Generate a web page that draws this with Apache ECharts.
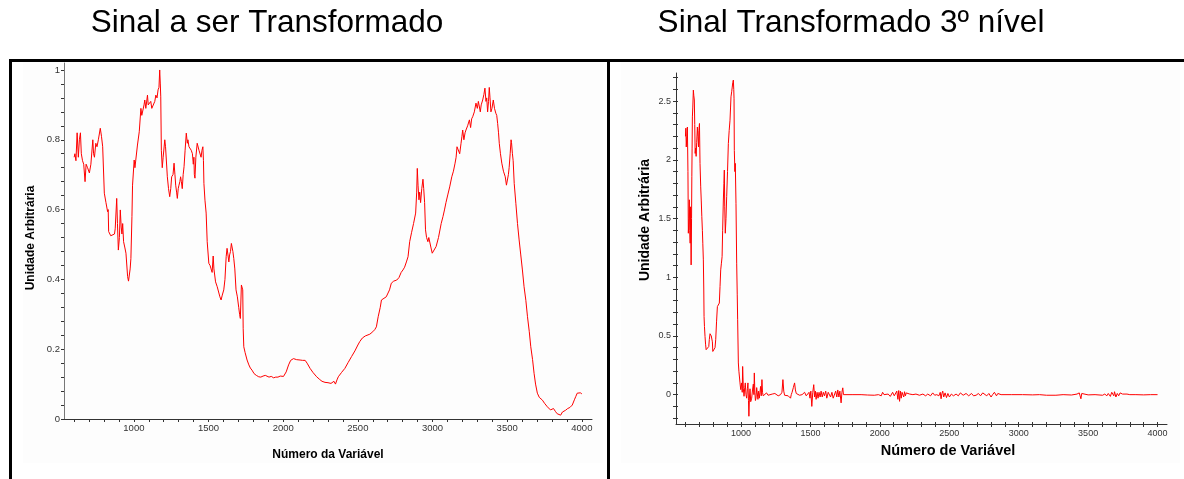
<!DOCTYPE html>
<html>
<head>
<meta charset="utf-8">
<script src="https://cdn.jsdelivr.net/npm/echarts@6.0.0/dist/echarts.min.js"></script>
<style>
html,body{margin:0;padding:0;background:#fff;}
#main{width:1184px;height:479px;}
</style>
</head>
<body>
<div id="main"></div>
<script>
// ---------- data ----------
const titleLeft = 'Sinal a ser Transformado';
const titleRight = 'Sinal Transformado 3º nível';
const yNameText = 'Unidade Arbitrária';
const xNameLeft = 'Número da Variável';
const xNameRight = 'Número de Variável';

const xTickLabels = [1000, 1500, 2000, 2500, 3000, 3500, 4000];
const leftYLabels = [0, 0.2, 0.4, 0.6, 0.8, 1];
const rightYLabels = [0, 0.5, 1, 1.5, 2, 2.5];

const leftX = [600,605,612,620,628,635,642,648,656,664,673,680,690,702,712,725,730,736,745,753,762,775,783,791,802,813,824,828,831,845,858,870,875,885,890,896,903,909,915,920,925,931,940,947,958,964,969,975,980,987,991,1002,1007,1013,1024,1036,1047,1053,1062,1068,1073,1080,1091,1096,1102,1113,1120,1131,1140,1147,1155,1162,1168,1173,1177,1180,1184,1190,1196,1207,1212,1218,1224,1232,1240,1247,1253,1262,1269,1275,1280,1286,1291,1297,1302,1308,1313,1318,1324,1330,1336,1343,1351,1358,1362,1369,1376,1384,1392,1398,1402,1405,1409,1415,1424,1430,1436,1442,1450,1456,1462,1466,1469,1476,1484,1491,1502,1510,1517,1524,1531,1536,1547,1558,1569,1576,1584,1592,1602,1610,1618,1624,1630,1636,1641,1647,1653,1658,1663,1669,1676,1684,1693,1702,1708,1713,1720,1725,1729,1732,1736,1745,1758,1770,1780,1791,1805,1820,1836,1850,1865,1880,1891,1905,1920,1936,1950,1965,1980,2002,2020,2036,2050,2069,2090,2113,2130,2147,2160,2180,2200,2224,2245,2260,2280,2300,2320,2331,2340,2350,2360,2369,2390,2413,2435,2458,2480,2500,2513,2530,2550,2580,2600,2613,2624,2636,2650,2658,2669,2690,2702,2712,2724,2740,2760,2775,2790,2802,2813,2825,2836,2847,2860,2873,2887,2894,2898,2903,2909,2914,2920,2928,2936,2941,2947,2953,2960,2969,2975,2980,2990,2998,3010,3024,3040,3058,3070,3080,3090,3102,3115,3129,3140,3151,3158,3164,3175,3182,3191,3197,3202,3210,3218,3224,3235,3247,3255,3262,3269,3280,3291,3300,3307,3313,3320,3326,3336,3344,3351,3358,3363,3369,3375,3380,3385,3391,3398,3407,3415,3424,3430,3436,3442,3447,3455,3464,3475,3487,3495,3502,3508,3513,3520,3526,3529,3535,3540,3547,3558,3569,3580,3591,3602,3613,3625,3636,3648,3658,3670,3680,3690,3702,3715,3725,3736,3750,3760,3769,3780,3790,3800,3810,3824,3835,3845,3858,3870,3880,3891,3905,3920,3936,3950,3960,3969,3980,3990,4000];
const leftY = [0.75,0.76,0.74,0.82,0.75,0.80,0.82,0.76,0.74,0.73,0.68,0.73,0.72,0.705,0.73,0.80,0.76,0.75,0.79,0.78,0.80,0.833,0.81,0.78,0.647,0.62,0.594,0.60,0.537,0.525,0.527,0.53,0.545,0.632,0.56,0.484,0.52,0.599,0.55,0.53,0.56,0.508,0.49,0.475,0.408,0.395,0.396,0.43,0.46,0.58,0.67,0.742,0.72,0.725,0.785,0.823,0.89,0.87,0.866,0.90,0.914,0.89,0.928,0.90,0.895,0.91,0.89,0.887,0.91,0.928,0.92,0.943,0.95,1.0,0.96,0.923,0.77,0.72,0.75,0.80,0.78,0.78,0.694,0.66,0.637,0.66,0.694,0.70,0.733,0.70,0.67,0.65,0.632,0.66,0.67,0.68,0.694,0.68,0.66,0.70,0.723,0.77,0.819,0.79,0.80,0.78,0.775,0.77,0.76,0.73,0.75,0.70,0.69,0.75,0.79,0.785,0.77,0.765,0.75,0.77,0.78,0.74,0.675,0.627,0.59,0.508,0.446,0.44,0.43,0.42,0.467,0.43,0.393,0.379,0.374,0.35,0.341,0.355,0.37,0.40,0.465,0.489,0.47,0.45,0.47,0.48,0.503,0.503,0.48,0.46,0.43,0.37,0.35,0.32,0.30,0.288,0.384,0.38,0.37,0.26,0.207,0.19,0.169,0.155,0.146,0.14,0.13,0.125,0.121,0.12,0.123,0.125,0.125,0.12,0.122,0.118,0.12,0.12,0.123,0.122,0.135,0.155,0.168,0.173,0.17,0.169,0.168,0.168,0.16,0.145,0.133,0.121,0.113,0.108,0.105,0.104,0.102,0.102,0.108,0.100,0.112,0.121,0.133,0.145,0.162,0.179,0.195,0.212,0.222,0.232,0.238,0.243,0.25,0.256,0.264,0.293,0.32,0.341,0.345,0.35,0.352,0.37,0.389,0.395,0.398,0.405,0.42,0.427,0.435,0.45,0.465,0.508,0.535,0.56,0.59,0.65,0.718,0.67,0.628,0.65,0.62,0.66,0.687,0.66,0.62,0.542,0.52,0.508,0.52,0.51,0.49,0.475,0.48,0.494,0.52,0.56,0.58,0.599,0.62,0.642,0.665,0.694,0.71,0.733,0.75,0.78,0.78,0.76,0.79,0.81,0.828,0.80,0.82,0.828,0.84,0.857,0.835,0.86,0.866,0.88,0.905,0.89,0.91,0.914,0.88,0.90,0.914,0.93,0.948,0.91,0.92,0.88,0.91,0.95,0.92,0.88,0.89,0.914,0.89,0.876,0.87,0.847,0.82,0.79,0.76,0.733,0.71,0.694,0.67,0.666,0.70,0.72,0.76,0.80,0.792,0.76,0.74,0.675,0.618,0.56,0.513,0.47,0.427,0.379,0.34,0.293,0.25,0.207,0.17,0.131,0.10,0.074,0.062,0.06,0.054,0.045,0.04,0.035,0.03,0.026,0.022,0.03,0.021,0.015,0.02,0.011,0.02,0.018,0.025,0.03,0.033,0.04,0.055,0.065,0.074,0.073,0.075,0.072];

const rightX = [600,603,606,610,614,618,621,625,628,631,634,637,641,644,646,648,650,653,657,660,664,667,670,674,677,681,686,690,694,697,701,705,710,714,718,722,725,729,732,734,737,741,745,749,753,758,763,768,772,777,782,786,790,794,797,802,808,813,818,824,830,837,844,849,854,859,864,868,873,877,880,883,887,892,897,903,909,915,921,925,928,933,937,941,945,948,950,952,956,959,964,969,973,976,981,985,988,993,998,1002,1005,1009,1012,1017,1022,1027,1031,1036,1041,1046,1050,1054,1057,1061,1065,1070,1077,1083,1089,1093,1096,1100,1104,1108,1113,1117,1122,1127,1132,1137,1141,1146,1151,1155,1160,1170,1184,1195,1208,1225,1244,1255,1268,1285,1295,1302,1308,1314,1325,1340,1357,1362,1368,1377,1386,1392,1398,1410,1422,1440,1458,1470,1482,1490,1497,1503,1510,1517,1524,1530,1536,1541,1548,1555,1562,1570,1577,1585,1593,1601,1610,1618,1628,1637,1645,1655,1664,1673,1682,1690,1697,1705,1712,1721,1727,1733,1738,1745,1800,1865,1910,1960,1990,2010,2020,2030,2044,2060,2075,2092,2104,2116,2122,2130,2136,2142,2148,2154,2160,2166,2172,2178,2184,2190,2200,2215,2238,2260,2285,2310,2330,2345,2365,2381,2395,2410,2425,2435,2441,2447,2453,2460,2470,2480,2490,2501,2515,2530,2549,2565,2580,2600,2621,2640,2660,2675,2693,2710,2725,2741,2755,2770,2785,2801,2812,2825,2840,2850,2861,2873,2950,3028,3100,3150,3200,3268,3320,3380,3420,3436,3442,3448,3454,3460,3500,3550,3604,3620,3635,3645,3652,3660,3670,3676,3685,3690,3700,3710,3720,3730,3748,3760,3780,3800,3844,3900,3950,4000];
const rightY = [2.20,2.27,2.11,2.20,2.28,1.90,1.375,1.50,1.66,1.40,1.29,1.60,1.105,1.50,1.856,2.10,2.366,2.45,2.594,2.55,2.51,2.30,2.055,2.10,2.03,2.15,2.28,2.20,2.11,2.25,2.31,1.97,1.77,1.65,1.516,1.40,1.29,1.148,0.90,0.666,0.58,0.496,0.43,0.383,0.375,0.37,0.385,0.41,0.47,0.519,0.52,0.50,0.51,0.45,0.368,0.365,0.36,0.40,0.468,0.62,0.75,0.76,0.78,0.92,1.063,1.12,1.176,1.40,1.658,1.80,1.913,1.60,1.375,1.50,1.686,1.90,2.14,2.25,2.338,2.45,2.537,2.58,2.62,2.66,2.68,2.60,2.52,2.08,1.90,1.97,1.63,1.12,0.85,0.638,0.27,0.20,0.185,0.10,0.043,0.06,0.10,0.02,0.24,0.05,-0.014,0.06,0.10,0.0,-0.03,0.05,0.10,-0.05,-0.184,-0.02,0.05,-0.06,-0.03,0.04,0.09,0.0,0.185,0.02,-0.05,-0.03,0.06,0.05,-0.04,0.03,-0.03,0.02,0.07,-0.01,0.128,0.02,-0.01,0.0,0.015,-0.005,0.0,0.005,0.01,-0.005,-0.01,0.0,0.02,0.128,0.03,-0.005,0.0,-0.01,-0.03,0.0,0.02,0.06,0.10,0.04,0.01,0.0,-0.005,0.0,0.02,-0.01,-0.01,0.02,-0.03,0.03,-0.10,0.02,0.085,-0.02,0.03,-0.04,0.02,-0.03,0.02,-0.02,0.03,-0.02,0.02,-0.01,0.03,-0.03,0.02,0.025,-0.02,0.02,-0.03,-0.02,0.03,-0.02,0.04,-0.02,0.03,-0.07,0.02,0.058,0.0,0.0,0.0,0.0,-0.003,-0.005,0.0,-0.01,0.02,0.0,-0.005,0.005,-0.015,0.02,-0.01,-0.02,0.03,-0.04,0.035,-0.057,0.03,-0.03,0.02,0.035,-0.02,0.025,-0.01,0.015,0.0,0.005,0.0,0.005,-0.005,0.005,-0.01,0.005,-0.01,0.015,-0.005,0.0,-0.01,0.02,-0.035,0.01,0.03,-0.02,0.015,-0.025,0.01,-0.02,0.005,-0.01,0.005,-0.01,0.015,-0.005,0.01,-0.01,0.01,-0.01,-0.005,0.01,-0.01,0.015,0.0,-0.01,0.01,-0.02,0.0,0.02,-0.01,0.01,0.005,0.0,0.0,0.0,-0.002,0.0,-0.005,-0.005,0.0,-0.003,0.005,0.015,-0.01,-0.035,0.01,0.0,-0.002,0.0,-0.005,0.005,-0.01,0.01,0.005,-0.015,0.02,0.015,-0.01,0.025,-0.02,0.01,-0.01,0.015,0.005,-0.005,0.005,0.0,0.0,-0.002,0.0,0.0];

// tick positions
function steps(from, to, step, dec) {
  const out = [];
  const n = Math.round((to - from) / step);
  for (let i = 0; i <= n; i++) out.push(+(from + i * step).toFixed(dec));
  return out;
}
const xTicks = steps(600, 4000, 100, 0);
const leftYTicks = steps(0, 1, 0.04, 2);
const rightYTicks = steps(-0.2, 2.7, 0.1, 1);

// ---------- chart ----------
const FONT = '"Liberation Sans", Arial, sans-serif';
const chart = echarts.init(document.getElementById('main'), null, {renderer: 'canvas'});
const plainFmt = v => String(v);

function xAxisDef(grid, tickInside, showLine, fs, margin, lineColor, tickLen) {
  return {
    type: 'value', gridIndex: grid, position: 'bottom', min: 532, max: 4068,
    splitLine: {show: false},
    axisLine: {show: showLine, onZero: false, lineStyle: {color: lineColor, width: 1}},
    axisTick: {show: true, inside: tickInside, length: tickLen, customValues: xTicks, lineStyle: {color: '#333', width: 1}},
    axisLabel: {show: !tickInside, customValues: xTickLabels, formatter: plainFmt, fontSize: fs, color: '#333', fontFamily: FONT, margin: margin}
  };
}
function yAxisDef(grid, min, max, ticks, labels, tickInside, showLine, fs, margin, lineColor, tickLen) {
  return {
    type: 'value', gridIndex: grid, position: 'left', min: min, max: max,
    splitLine: {show: false},
    axisLine: {show: showLine, onZero: false, lineStyle: {color: lineColor, width: 1}},
    axisTick: {show: true, inside: tickInside, length: tickLen, customValues: ticks, lineStyle: {color: '#333', width: 1}},
    axisLabel: {show: !tickInside, customValues: labels, formatter: plainFmt, fontSize: fs, color: '#333', fontFamily: FONT, margin: margin}
  };
}

const option = {
  animation: false,
  backgroundColor: '#ffffff',
  grid: [
    {left: 64, top: 63, width: 528, height: 356},
    {left: 676, top: 73, width: 491, height: 351}
  ],
  xAxis: [
    xAxisDef(0, false, true, 9.5, 4, '#333', 3),
    xAxisDef(1, false, true, 9, 5, '#333', 3),
    xAxisDef(1, true, false, 9, 5, '#333', 2)
  ],
  yAxis: [
    yAxisDef(0, 0, 1.02, leftYTicks, leftYLabels, false, true, 9.5, 4, '#777', 3),
    yAxisDef(1, -0.25, 2.74, rightYTicks, rightYLabels, false, true, 9, 5, '#333', 3),
    yAxisDef(1, -0.25, 2.74, rightYTicks, rightYLabels, true, false, 9, 5, '#333', 2)
  ],
  series: [
    {
      type: 'line', xAxisIndex: 0, yAxisIndex: 0, showSymbol: false, symbol: 'none',
      lineStyle: {color: '#ff0000', width: 1}, silent: true,
      data: leftX.map((x, i) => [x, leftY[i]])
    },
    {
      type: 'line', xAxisIndex: 1, yAxisIndex: 1, showSymbol: false, symbol: 'none',
      lineStyle: {color: '#ff0000', width: 1}, silent: true,
      data: rightX.map((x, i) => [x, rightY[i]])
    }
  ],
  graphic: [
    {type: 'rect', z: -10, shape: {x: 23, y: 62, width: 580, height: 401}, style: {fill: '#fdfdfd'}, silent: true},
    {type: 'rect', z: -10, shape: {x: 621, y: 62, width: 559, height: 401}, style: {fill: '#fdfdfd'}, silent: true},
    {type: 'rect', shape: {x: 9, y: 59, width: 1175, height: 3}, style: {fill: '#000'}, silent: true},
    {type: 'rect', shape: {x: 9, y: 59, width: 3, height: 420}, style: {fill: '#000'}, silent: true},
    {type: 'rect', shape: {x: 607, y: 59, width: 3, height: 420}, style: {fill: '#000'}, silent: true},
    {type: 'text', x: 267, y: 23, style: {text: titleLeft, fontSize: 31.5, fontFamily: FONT, fill: '#000', textAlign: 'center', textVerticalAlign: 'middle'}},
    {type: 'text', x: 851, y: 23, style: {text: titleRight, fontSize: 31.5, fontFamily: FONT, fill: '#000', textAlign: 'center', textVerticalAlign: 'middle'}},
    {type: 'text', x: 31, y: 238, rotation: Math.PI / 2, style: {text: yNameText, fontSize: 12, fontWeight: 'bold', fontFamily: FONT, fill: '#000', textAlign: 'center', textVerticalAlign: 'middle'}},
    {type: 'text', x: 328, y: 455, style: {text: xNameLeft, fontSize: 12, fontWeight: 'bold', fontFamily: FONT, fill: '#000', textAlign: 'center', textVerticalAlign: 'middle'}},
    {type: 'text', x: 645, y: 220, rotation: Math.PI / 2, style: {text: yNameText, fontSize: 14, fontWeight: 'bold', fontFamily: FONT, fill: '#000', textAlign: 'center', textVerticalAlign: 'middle'}},
    {type: 'text', x: 948, y: 451, style: {text: xNameRight, fontSize: 14.5, fontWeight: 'bold', fontFamily: FONT, fill: '#000', textAlign: 'center', textVerticalAlign: 'middle'}}
  ]
};
chart.setOption(option);
</script>
</body>
</html>
